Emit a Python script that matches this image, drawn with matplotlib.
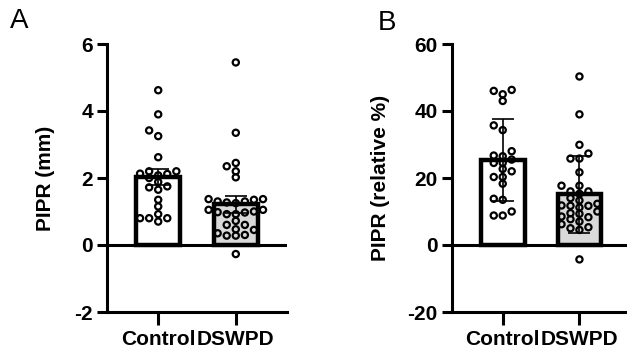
import numpy as np
import matplotlib
matplotlib.use("Agg")
from matplotlib import pyplot as plt

plt.rcParams["font.family"] = ["Liberation Sans", "DejaVu Sans"]
plt.rcParams["axes.unicode_minus"] = False

groups = ["Control", "DSWPD"]
bar_colors = ["white", "#d9d9d9"]

# panel A: PIPR (mm), mean +/- SEM
pipr_mm_control = [4.62, 3.9, 3.42, 3.25, 2.62, 2.12, 2.2, 2.13, 2.2, 2.08, 2.0,
                   1.88, 1.75, 1.72, 1.65, 1.35, 1.15, 0.92, 0.8, 0.7, 0.8, 0.8]
pipr_mm_dswpd = [5.45, 3.35, 2.45, 2.35, 2.2, 2.02, 1.37, 1.35, 1.3, 1.27,
                 1.3, 1.37, 1.25, 1.05, 1.0, 0.97, 0.92, 0.92, 0.98, 1.05, 0.72,
                 0.6, 0.6, 0.47, 0.45, 0.35, 0.3, 0.28, 0.28, -0.27]
mean_mm = [2.02, 1.22]
err_mm = [0.24, 0.25]

# panel B: PIPR (relative %), mean +/- SD
pipr_rel_control = [46.3, 45, 43, 46, 34.3, 35.7, 28, 26.7, 26.5, 25.5, 24.5, 24.5,
                    22.7, 22, 20.3, 20.3, 18.3, 13.8, 13.5, 10, 8.8, 8.8]
pipr_rel_dswpd = [50.3, 39, 29.9, 27.3, 25.8, 25.8, 21.7, 17.7, 17.7, 16, 15.3, 16,
                  14, 13.3, 11.8, 12.3, 11.7, 11.7, 11.2, 9.5, 10, 9.3, 8.5, 8.3,
                  7.7, 6.2, 7, 5, 5.3, 4.5, -4.3]
mean_rel = [25.4, 15.1]
err_rel = [12.2, 11.6]

W, H = 627, 348
PX_PER_X = 77.0


def swarm(vals, px_per_unit, col_px=9.0, min_px=6.0):
    vals = np.asarray(vals, dtype=float)
    placed = []
    offsets = np.zeros(len(vals))
    cands = [0]
    for k in range(1, 8):
        cands += [-k, k]
    for i in np.argsort(vals):
        y = vals[i] * px_per_unit
        for c in cands:
            if all(not (pc == c and abs(py - y) < min_px) for pc, py in placed):
                break
        placed.append((c, y))
        offsets[i] = c * col_px / PX_PER_X
    return offsets


def panel(ax, data, means, errs, ylim, yticks, ylabel, px_per_unit, xlim, label_x):
    x = np.arange(len(groups))
    ax.bar(x, means, width=0.57, color=bar_colors, edgecolor="black",
           linewidth=3.2, zorder=2)
    ax.axhline(0, color="black", linewidth=2.2, zorder=3)
    ax.errorbar(x, means, yerr=errs, fmt="none", ecolor="black", elinewidth=1.2,
                capsize=8, capthick=1.2, zorder=4)
    for xi, vals in zip(x, data):
        offs = swarm(vals, px_per_unit)
        ax.scatter(xi + offs, vals, s=20, facecolors="none", edgecolors="black",
                   linewidths=1.6, zorder=5, clip_on=False)

    ax.set_xlim(*xlim)
    ax.set_ylim(*ylim)
    ax.set_yticks(yticks)
    ax.set_xticks(x)
    ax.set_xticklabels(groups)
    for s in ["top", "right"]:
        ax.spines[s].set_visible(False)
    for s in ["left", "bottom"]:
        ax.spines[s].set_linewidth(2.2)
    ax.tick_params(axis="y", length=7, width=2.2, labelsize=15, pad=3)
    ax.tick_params(axis="x", length=9, width=2.2, labelsize=15, pad=4)
    for t in ax.get_xticklabels() + ax.get_yticklabels():
        t.set_fontweight("bold")
    ax.set_ylabel(ylabel, fontsize=15, fontweight="bold")
    ax.yaxis.set_label_coords(label_x, 0.5)


fig = plt.figure(figsize=(W / 100, H / 100), dpi=100)
bottom = 1 - 312 / H
height = 268 / H

ax_a = fig.add_axes([107 / W, bottom, 180 / W, height])
panel(ax_a, [pipr_mm_control, pipr_mm_dswpd], mean_mm, err_mm, (-2, 6),
      [-2, 0, 2, 4, 6], "PIPR (mm)", 33.5, (-0.66, 1.66), -0.29)

ax_b = fig.add_axes([451.7 / W, bottom, (W - 451.7) / W, height])
panel(ax_b, [pipr_rel_control, pipr_rel_dswpd], mean_rel, err_rel, (-20, 60),
      [-20, 0, 20, 40, 60], "PIPR (relative %)", 3.35, (-0.665, 1.62), -0.352)

fig.text(19 / W, 1 - 21 / H, "A", ha="center", va="center", fontsize=20)
fig.text(387 / W, 1 - 23 / H, "B", ha="center", va="center", fontsize=20)

fig.savefig("out.png", dpi=100)
